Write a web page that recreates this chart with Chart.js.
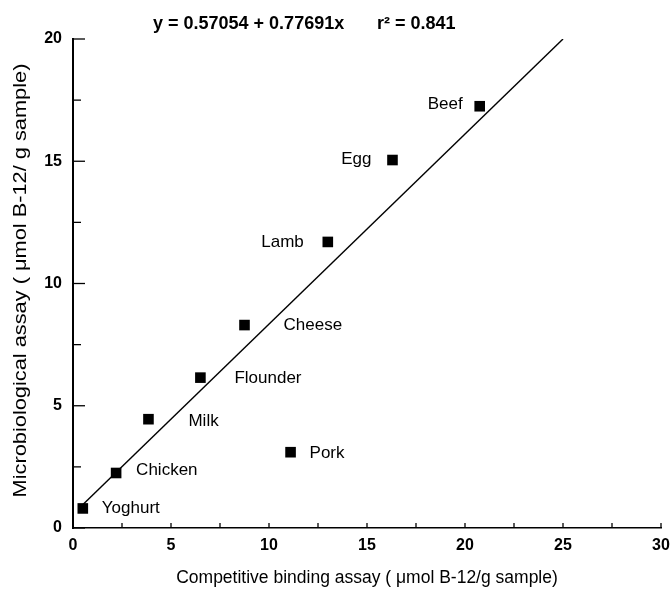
<!DOCTYPE html>
<html>
<head>
<meta charset="utf-8">
<script src="https://cdn.jsdelivr.net/npm/chart.js@4.4.1/dist/chart.umd.min.js"></script>
<style>
  html, body { margin: 0; padding: 0; background: #fff; }
  #wrap { width: 671px; height: 591px; }
</style>
</head>
<body>
<div id="wrap"><canvas id="c" width="671" height="591"></canvas></div>
<script>
// ---- data ----
const foods = ['Yoghurt', 'Chicken', 'Milk', 'Flounder', 'Cheese', 'Lamb', 'Egg', 'Beef', 'Pork'];
const competitive = [0.5, 2.2, 3.85, 6.5, 8.75, 13.0, 16.3, 20.75, 11.1];
const microbio    = [0.8, 2.25, 4.45, 6.15, 8.3, 11.7, 15.05, 17.25, 3.1];
const fitLineX = [0.35, 25.0];
const fitLineY = [0.84, 20.0];
const xTicks = [0, 5, 10, 15, 20, 25, 30];
const yTicks = [0, 5, 10, 15, 20];
const equationText = 'y = 0.57054 + 0.77691x';
const r2Text = 'r\u00B2 = 0.841';
const xTitle = 'Competitive binding assay ( \u03BCmol B-12/g sample)';
const yTitle = 'Microbiological assay ( \u03BCmol B-12/ g sample)';

// ---- label placement (pixels, style only) ----
const labelDx = [19, 20, 40, 34, 39, -24, -21, -17, 19];
const labelDy = [0, -3, 2, 1, 0, 0, -1, -2, 1];

const FONT = '"Liberation Sans", Arial, Helvetica, sans-serif';

const points = competitive.map((x, i) => ({x: x, y: microbio[i]}));
const linePts = fitLineX.map((x, i) => ({x: x, y: fitLineY[i]}));

const decorPlugin = {
  id: 'decor',
  afterDraw(chart) {
    const ctx = chart.ctx;
    const xs = chart.scales.x, ys = chart.scales.y;
    const x0 = xs.getPixelForValue(0), y0 = ys.getPixelForValue(0);
    ctx.save();
    ctx.strokeStyle = '#000';
    // inward tick marks
    ctx.lineWidth = 1.3;
    for (let v = 0; v <= 30.001; v += 2.5) {
      const px = xs.getPixelForValue(v);
      ctx.beginPath(); ctx.moveTo(px, y0); ctx.lineTo(px, y0 - 5); ctx.stroke();
    }
    for (let v = 0; v <= 20.001; v += 2.5) {
      const py = ys.getPixelForValue(v);
      const len = (Math.abs(v % 5) < 0.01) ? 12 : 8;
      ctx.beginPath(); ctx.moveTo(x0, py); ctx.lineTo(x0 + len, py); ctx.stroke();
    }
    // point labels
    ctx.fillStyle = '#000';
    ctx.font = '17px ' + FONT;
    ctx.textBaseline = 'middle';
    foods.forEach((name, i) => {
      const px = xs.getPixelForValue(competitive[i]);
      const py = ys.getPixelForValue(microbio[i]);
      const dx = labelDx[i];
      ctx.textAlign = dx >= 0 ? 'left' : 'right';
      ctx.fillText(name, px + dx, py + labelDy[i]);
    });
    // y axis title (stretched along its length like the scan)
    ctx.save();
    ctx.translate(21, (chart.chartArea.top + chart.chartArea.bottom) / 2 - 3);
    ctx.rotate(-Math.PI / 2);
    ctx.scale(1.21, 1);
    ctx.font = '18px ' + FONT;
    ctx.textAlign = 'center';
    ctx.textBaseline = 'middle';
    ctx.fillText(yTitle, 0, 0);
    ctx.restore();
    // equation header
    ctx.font = 'bold 18px ' + FONT;
    ctx.textAlign = 'left';
    ctx.textBaseline = 'alphabetic';
    ctx.fillText(equationText, 153, 29);
    ctx.fillText(r2Text, 377, 29);
    ctx.restore();
  }
};

new Chart(document.getElementById('c'), {
  type: 'scatter',
  data: {
    datasets: [
      {
        label: 'fit',
        type: 'line',
        data: linePts,
        borderColor: '#000',
        borderWidth: 1.4,
        pointRadius: 0,
        fill: false,
        tension: 0
      },
      {
        label: 'foods',
        data: points,
        pointStyle: 'rect',
        pointRadius: 7.5,
        pointBackgroundColor: '#000',
        pointBorderWidth: 0,
        borderColor: '#000'
      }
    ]
  },
  options: {
    responsive: false,
    animation: false,
    layout: { padding: { top: 39, right: 10, left: 0, bottom: 0 } },
    plugins: { legend: { display: false }, tooltip: { enabled: false }, title: { display: false } },
    scales: {
      x: {
        type: 'linear', min: 0, max: 30,
        afterBuildTicks: s => { s.ticks = xTicks.map(v => ({value: v})); },
        afterFit: s => { s.height = 63; s.paddingRight = 0; s.paddingLeft = 0; },
        ticks: { color: '#000', font: { family: FONT, size: 16, weight: 'bold' }, padding: 8, maxRotation: 0 },
        grid: { display: false, drawTicks: false },
        border: { display: true, color: '#000', width: 1.5 },
        title: { display: true, text: xTitle, color: '#000', font: { family: FONT, size: 17.5 }, padding: { top: 0, bottom: 2 } }
      },
      y: {
        type: 'linear', min: 0, max: 20,
        afterBuildTicks: s => { s.ticks = yTicks.map(v => ({value: v})); },
        afterFit: s => { s.width = 73; s.paddingTop = 0; s.paddingBottom = 0; },
        ticks: { color: '#000', font: { family: FONT, size: 16, weight: 'bold' }, padding: 11 },
        grid: { display: false, drawTicks: false },
        border: { display: true, color: '#000', width: 2 },
        title: { display: false }
      }
    }
  },
  plugins: [decorPlugin]
});
</script>
</body>
</html>
